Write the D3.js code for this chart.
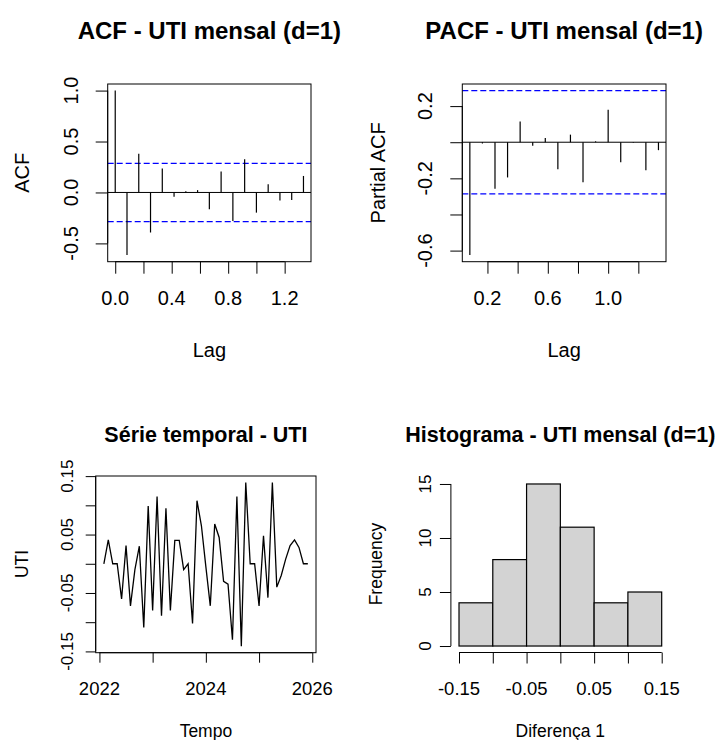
<!DOCTYPE html>
<html>
<head>
<meta charset="utf-8">
<script src="https://cdn.jsdelivr.net/npm/d3@7"></script>
<style>
  body { margin: 0; background: #fff; }
  svg { display: block; }
  text { font-family: "Liberation Sans", Arial, sans-serif; fill: #000; }
</style>
</head>
<body>
<svg width="720" height="740"></svg>
<script>
// ---- data ----
const freq = 12;
const nObs = 47;

const acfLags = [0, 1, 2, 3, 4, 5, 6, 7, 8, 9, 10, 11, 12, 13, 14, 15, 16];
const acfVals = [1.0, -0.615, 0.38, -0.393, 0.234, -0.042, 0.013, 0.023, -0.166,
                 0.205, -0.279, 0.325, -0.198, 0.081, -0.078, -0.075, 0.162];

const pacfLags = [1, 2, 3, 4, 5, 6, 7, 8, 9, 10, 11, 12, 13, 14, 15, 16];
const pacfVals = [-0.625, -0.007, -0.258, -0.195, 0.115, -0.02, 0.024, -0.149,
                  0.042, -0.222, 0.005, 0.18, -0.111, -0.003, -0.155, -0.044];

const acfXTicks = [0, 0.2, 0.4, 0.6, 0.8, 1.0, 1.2];
const acfXLabels = [0, 0.4, 0.8, 1.2];
const acfYTicks = [-0.5, 0, 0.5, 1.0];
const pacfXTicks = [0.2, 0.4, 0.6, 0.8, 1.0, 1.2];
const pacfXLabels = [0.2, 0.6, 1.0];
const pacfYTicks = [-0.6, -0.4, -0.2, 0, 0.2];
const pacfYLabels = [-0.6, -0.2, 0.2];

// differenced monthly series, starting Feb 2022
const tsStart = 2022 + 1 / 12;
const utiDiff = [0.000, 0.041, 0.000, 0.000, -0.060, 0.031, -0.072, -0.010, 0.030, -0.109,
                 0.099, -0.080, 0.115, -0.089, 0.095, -0.080, 0.040, 0.040, -0.010, 0.000,
                 -0.102, 0.108, 0.065, -0.005, -0.072, 0.068, 0.045, -0.030, -0.035, -0.130,
                 0.115, -0.141, 0.139, 0.000, 0.000, -0.072, 0.048, -0.058, 0.139, -0.040,
                 -0.020, 0.008, 0.031, 0.041, 0.028, 0.000, 0.000];
const tsXTicks = [2022, 2023, 2024, 2025, 2026];
const tsXLabels = [2022, 2024, 2026];
const tsYTicks = [-0.15, -0.10, -0.05, 0, 0.05, 0.10, 0.15];
const tsYLabels = [-0.15, -0.05, 0.05, 0.15];

const histBreaks = [-0.15, -0.10, -0.05, 0, 0.05, 0.10, 0.15];
const histCounts = [4, 8, 15, 11, 4, 5];
const histXLabels = [-0.15, -0.05, 0.05, 0.15];
const histYTicks = [0, 5, 10, 15];

// ---- helpers ----
let svg = d3.select("svg");
svg.append("rect").attr("width", 720).attr("height", 740).attr("fill", "#fff");

function ext(lo, hi) {
    let d = (hi - lo) * 0.04;
    return [lo - d, hi + d];
}

function txt(g, x, y, s, size, rot, bold) {
    let t = g.append("text")
        .attr("transform", "translate(" + x + "," + y + ") rotate(" + (rot || 0) + ")")
        .attr("text-anchor", "middle")
        .attr("dominant-baseline", "central")
        .attr("font-size", size + "px")
        .text(s);
    if (bold) t.attr("font-weight", "bold");
    return t;
}

// R-like axis: line only between first and last tick, ticks outward
function drawAxis(g, side, scale, ticks, pos, len) {
    let ax = side === "bottom" ? d3.axisBottom(scale) : d3.axisLeft(scale);
    ax.tickValues(ticks).tickSize(len).tickSizeOuter(0).tickFormat("");
    let a = g.append("g")
        .attr("transform", side === "bottom" ? "translate(0," + pos + ")" : "translate(" + pos + ",0)")
        .call(ax);
    a.select(".domain").remove();
    a.selectAll(".tick line").attr("stroke", "#000");
    let lo = scale(d3.min(ticks)), hi = scale(d3.max(ticks));
    if (side === "bottom")
        a.append("line").attr("x1", lo).attr("x2", hi).attr("stroke", "#000");
    else
        a.append("line").attr("y1", lo).attr("y2", hi).attr("stroke", "#000");
}

function fmt(v, dec) { return v.toFixed(dec); }

function box(g, x, y) {
    g.append("rect")
        .attr("x", x.range()[0]).attr("y", y.range()[1])
        .attr("width", x.range()[1] - x.range()[0])
        .attr("height", y.range()[0] - y.range()[1])
        .attr("fill", "none").attr("stroke", "#000").attr("stroke-width", 1);
}

const clim = 1.96 / Math.sqrt(nObs);

function corrPanel(o) {
    let g = svg.append("g");
    let lagsX = o.lags.map(l => l / freq);
    let x = d3.scaleLinear().domain(ext(d3.min(lagsX), d3.max(lagsX))).range([o.left, o.right]);
    let y = d3.scaleLinear()
        .domain(ext(Math.min(d3.min(o.vals), -clim), Math.max(d3.max(o.vals), clim)))
        .range([o.bottom, o.top]);

    // zero line
    g.append("line").attr("x1", x.range()[0]).attr("x2", x.range()[1])
        .attr("y1", y(0)).attr("y2", y(0)).attr("stroke", "#000");
    // confidence bounds
    [clim, -clim].forEach(c => {
        g.append("line").attr("x1", x.range()[0]).attr("x2", x.range()[1])
            .attr("y1", y(c)).attr("y2", y(c))
            .style("stroke", "rgb(0,0,255)").attr("stroke-width", 1.1)
            .attr("stroke-dasharray", "6,3");
    });
    // spikes
    g.selectAll("line.spike").data(o.vals).enter().append("line")
        .attr("class", "spike")
        .attr("x1", (d, i) => x(lagsX[i])).attr("x2", (d, i) => x(lagsX[i]))
        .attr("y1", y(0)).attr("y2", d => y(d))
        .attr("stroke", "#000").attr("stroke-width", 1.2);

    box(g, x, y);
    drawAxis(g, "bottom", x, o.xTicks, o.bottom, 12);
    drawAxis(g, "left", y, o.yTicks, o.left, 12);

    o.xLabels.forEach(v => txt(g, x(v), 298, fmt(v, 1), 20));
    o.yLabels.forEach(v => txt(g, o.left - 37, y(v), fmt(v, 1), 20, -90));

    txt(g, (o.left + o.right) / 2, 30, o.title, 24, 0, true);
    txt(g, (o.left + o.right) / 2, 350, "Lag", 20);
    txt(g, o.ylabX, (o.top + o.bottom) / 2, o.ylab, 20, -90);
}

corrPanel({
    lags: acfLags, vals: acfVals, left: 107.7, right: 311, top: 84, bottom: 261.7,
    xTicks: acfXTicks, xLabels: acfXLabels, yTicks: acfYTicks, yLabels: acfYTicks,
    title: "ACF - UTI mensal (d=1)", ylab: "ACF", ylabX: 22
});

corrPanel({
    lags: pacfLags, vals: pacfVals, left: 462.3, right: 666, top: 84, bottom: 261.7,
    xTicks: pacfXTicks, xLabels: pacfXLabels, yTicks: pacfYTicks, yLabels: pacfYLabels,
    title: "PACF - UTI mensal (d=1)", ylab: "Partial ACF", ylabX: 378
});

// ---- time series ----
(function () {
    let g = svg.append("g");
    let times = utiDiff.map((v, i) => tsStart + i / freq);
    let x = d3.scaleLinear().domain(ext(d3.min(times), d3.max(times))).range([95.7, 316]);
    let y = d3.scaleLinear().domain(ext(d3.min(utiDiff), d3.max(utiDiff))).range([652.7, 476]);

    let line = d3.line().x((d, i) => x(times[i])).y(d => y(d));
    g.append("path").datum(utiDiff).attr("d", line)
        .attr("fill", "none").attr("stroke", "#000").attr("stroke-width", 1.3);

    box(g, x, y);
    drawAxis(g, "bottom", x, tsXTicks, 652.7, 10);
    drawAxis(g, "left", y, tsYTicks, 95.7, 10);

    tsXLabels.forEach(v => txt(g, x(v), 688, String(v), 18.5));
    tsYLabels.forEach(v => txt(g, 67, y(v), fmt(v, 2), 17, -90));

    txt(g, 205.9, 435, "Série temporal - UTI", 21.5, 0, true);
    txt(g, 205.9, 731, "Tempo", 17.5);
    txt(g, 22, 564, "UTI", 17.5, -90);
})();

// ---- histogram ----
(function () {
    let g = svg.append("g");
    let x = d3.scaleLinear().domain(ext(d3.min(histBreaks), d3.max(histBreaks))).range([450.9, 669.8]);
    let y = d3.scaleLinear().domain(ext(0, d3.max(histCounts))).range([652.5, 477.5]);

    g.selectAll("rect.bar").data(histCounts).enter().append("rect")
        .attr("class", "bar")
        .attr("x", (d, i) => x(histBreaks[i]))
        .attr("width", (d, i) => x(histBreaks[i + 1]) - x(histBreaks[i]))
        .attr("y", d => y(d))
        .attr("height", d => y(0) - y(d))
        .attr("fill", "#d3d3d3").attr("stroke", "#000").attr("stroke-width", 1.2);

    drawAxis(g, "bottom", x, histBreaks, 652.5, 11);
    drawAxis(g, "left", y, histYTicks, 450.9, 11);

    histXLabels.forEach(v => txt(g, x(v), 688, fmt(v, 2), 18.5));
    histYTicks.forEach(v => txt(g, 425, y(v), String(v), 17, -90));

    txt(g, 560.3, 435, "Histograma - UTI mensal (d=1)", 21.5, 0, true);
    txt(g, 560.3, 731, "Diferença 1", 17.5);
    txt(g, 376, 564, "Frequency", 17.5, -90);
})();
</script>
</body>
</html>
